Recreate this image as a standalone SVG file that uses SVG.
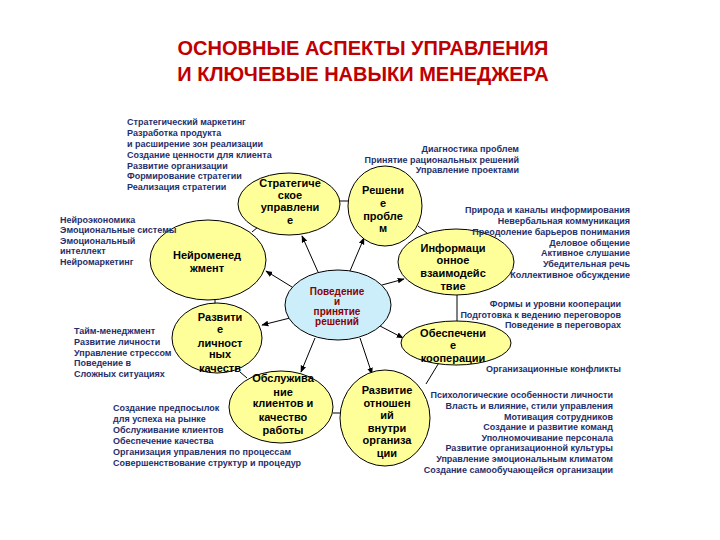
<svg xmlns="http://www.w3.org/2000/svg" width="720" height="540" viewBox="0 0 720 540">
<defs>
<marker id="ah" viewBox="0 0 10 10" refX="9" refY="5" markerWidth="7" markerHeight="7" orient="auto-start-reverse" markerUnits="userSpaceOnUse"><path d="M0,1 L10,5 L0,9 z" fill="#000"/></marker>
<style>
.title{font-family:"Liberation Sans",Arial,sans-serif;font-weight:bold;font-size:20px;fill:#C00000;text-anchor:middle}
.node ellipse{fill:#FFFF99;stroke:#000;stroke-width:1}
.node text{font-family:"Liberation Sans",Arial,sans-serif;font-weight:bold;font-size:11px;fill:#000;text-anchor:middle}
#center ellipse{fill:#CCEEFA;stroke:#000;stroke-width:1}
#center text{fill:#8B0000;font-size:10px}
.lst{font-family:"Liberation Sans",Arial,sans-serif;font-weight:bold;font-size:9px;fill:#1F2F6B}
.r{text-anchor:end}
.conn line{stroke:#000;stroke-width:1;fill:none}
.conn line.arr{marker-end:url(#ah)}
</style>
</defs>
<rect width="720" height="540" fill="#fff"/>
<text class="title" x="363" y="55">ОСНОВНЫЕ АСПЕКТЫ УПРАВЛЕНИЯ</text>
<text class="title" x="363" y="81">И КЛЮЧЕВЫЕ НАВЫКИ МЕНЕДЖЕРА</text>

<g id="connectors" class="conn">
<line class="arr" x1="318" y1="272" x2="302" y2="236"/>
<line class="arr" x1="350" y1="271" x2="364" y2="238"/>
<line class="arr" x1="292" y1="287" x2="266" y2="271"/>
<line class="arr" x1="382" y1="285" x2="404" y2="279"/>
<line class="arr" x1="290" y1="318" x2="262" y2="325"/>
<line class="arr" x1="380" y1="326" x2="403" y2="338"/>
<line class="arr" x1="315" y1="338" x2="301" y2="372"/>
<line class="arr" x1="360" y1="338" x2="372" y2="374"/>
<line x1="340" y1="201" x2="348" y2="201"/>
<line x1="252" y1="232" x2="258" y2="227"/>
<line x1="418" y1="226" x2="432" y2="237"/>
<line x1="457" y1="295" x2="457" y2="322"/>
<line x1="440" y1="361" x2="426" y2="384"/>
<line x1="333" y1="413" x2="341" y2="413"/>
<line x1="240" y1="372" x2="247" y2="378"/>
<line x1="215" y1="299" x2="215" y2="305"/>
</g>

<g id="center" class="node">
<ellipse cx="338" cy="305" rx="53" ry="35"/>
<text x="337" y="295">Поведение</text>
<text x="337" y="305">и</text>
<text x="337" y="315">принятие</text>
<text x="337" y="325">решений</text>
</g>

<g id="strat" class="node">
<ellipse cx="289" cy="204" rx="51" ry="31"/>
<text x="290" y="187">Стратегиче</text>
<text x="290" y="199">ское</text>
<text x="290" y="211">управлени</text>
<text x="290" y="224">е</text>
</g>

<g id="problem" class="node">
<ellipse cx="385" cy="206" rx="37" ry="40"/>
<text x="383" y="194">Решени</text>
<text x="383" y="207">е</text>
<text x="383" y="220">пробле</text>
<text x="383" y="232">м</text>
</g>

<g id="neuro" class="node">
<ellipse cx="208" cy="260" rx="58" ry="40"/>
<text x="207" y="259">Нейроменед</text>
<text x="207" y="272">жмент</text>
</g>

<g id="info" class="node">
<ellipse cx="456" cy="262" rx="58" ry="33"/>
<text x="453" y="252">Информаци</text>
<text x="453" y="264">онное</text>
<text x="453" y="277">взаимодейс</text>
<text x="453" y="290">твие</text>
</g>

<g id="personal" class="node">
<ellipse cx="217" cy="338" rx="45" ry="35"/>
<text x="220" y="321">Развити</text>
<text x="220" y="333">е</text>
<text x="220" y="347">личност</text>
<text x="220" y="358">ных</text>
<text x="220" y="372">качеств</text>
</g>

<g id="coop" class="node">
<ellipse cx="456" cy="343" rx="55" ry="22"/>
<text x="453" y="337">Обеспечени</text>
<text x="453" y="349">е</text>
<text x="453" y="362">кооперации</text>
</g>

<g id="service" class="node">
<ellipse cx="281" cy="407" rx="52" ry="36"/>
<text x="283" y="382">Обслужива</text>
<text x="283" y="396">ние</text>
<text x="283" y="407">клиентов и</text>
<text x="283" y="421">качество</text>
<text x="283" y="434">работы</text>
</g>

<g id="relations" class="node">
<ellipse cx="385" cy="418" rx="45" ry="48"/>
<text x="387" y="394">Развитие</text>
<text x="387" y="407">отношен</text>
<text x="387" y="419">ий</text>
<text x="387" y="432">внутри</text>
<text x="387" y="444">организа</text>
<text x="387" y="457">ции</text>
</g>

<g id="list-strat" class="lst">
<text x="127" y="125">Стратегический маркетинг</text>
<text x="127" y="136">Разработка продукта</text>
<text x="127" y="147">и  расширение зон реализации</text>
<text x="127" y="158">Создание ценности для клиента</text>
<text x="127" y="169">Развитие организации</text>
<text x="127" y="179">Формирование стратегии</text>
<text x="127" y="190">Реализация стратегии</text>
</g>

<g id="list-problem" class="lst r">
<text x="519" y="152">Диагностика проблем</text>
<text x="519" y="163">Принятие рациональных решений</text>
<text x="519" y="173">Управление проектами</text>
</g>

<g id="list-neuro" class="lst">
<text x="60" y="223">Нейроэкономика</text>
<text x="60" y="233">Эмоциональные системы</text>
<text x="60" y="244">Эмоциональный</text>
<text x="60" y="254">интеллект</text>
<text x="60" y="265">Нейромаркетинг</text>
</g>

<g id="list-info" class="lst r">
<text x="630" y="213">Природа и каналы информирования</text>
<text x="630" y="224">Невербальная коммуникация</text>
<text x="630" y="235">Преодоление барьеров понимания</text>
<text x="630" y="246">Деловое общение</text>
<text x="630" y="256">Активное слушание</text>
<text x="630" y="267">Убедительная речь</text>
<text x="630" y="278">Коллективное обсуждение</text>
</g>

<g id="list-coop" class="lst r">
<text x="621" y="307">Формы и уровни кооперации</text>
<text x="621" y="318">Подготовка к ведению переговоров</text>
<text x="621" y="328">Поведение в переговорах</text>
<text x="621" y="372">Организационные конфликты</text>
</g>

<g id="list-personal" class="lst">
<text x="74" y="334">Тайм-менеджмент</text>
<text x="74" y="345">Развитие личности</text>
<text x="74" y="356">Управление стрессом</text>
<text x="74" y="366">Поведение в</text>
<text x="74" y="377">Сложных ситуациях</text>
</g>

<g id="list-service" class="lst">
<text x="113" y="411">Создание предпосылок</text>
<text x="113" y="422">для успеха на рынке</text>
<text x="113" y="433">Обслуживание клиентов</text>
<text x="113" y="444">Обеспечение качества</text>
<text x="113" y="455">Организация управления по процессам</text>
<text x="113" y="466">Совершенствование структур и процедур</text>
</g>

<g id="list-relations" class="lst r">
<text x="613" y="398">Психологические особенности личности</text>
<text x="613" y="409">Власть и влияние, стили управления</text>
<text x="613" y="420">Мотивация сотрудников</text>
<text x="613" y="430">Создание и развитие команд</text>
<text x="613" y="441">Уполномочивание персонала</text>
<text x="613" y="451">Развитие организационной культуры</text>
<text x="613" y="462">Управление эмоциональным климатом</text>
<text x="613" y="473">Создание самообучающейся организации</text>
</g>
</svg>
